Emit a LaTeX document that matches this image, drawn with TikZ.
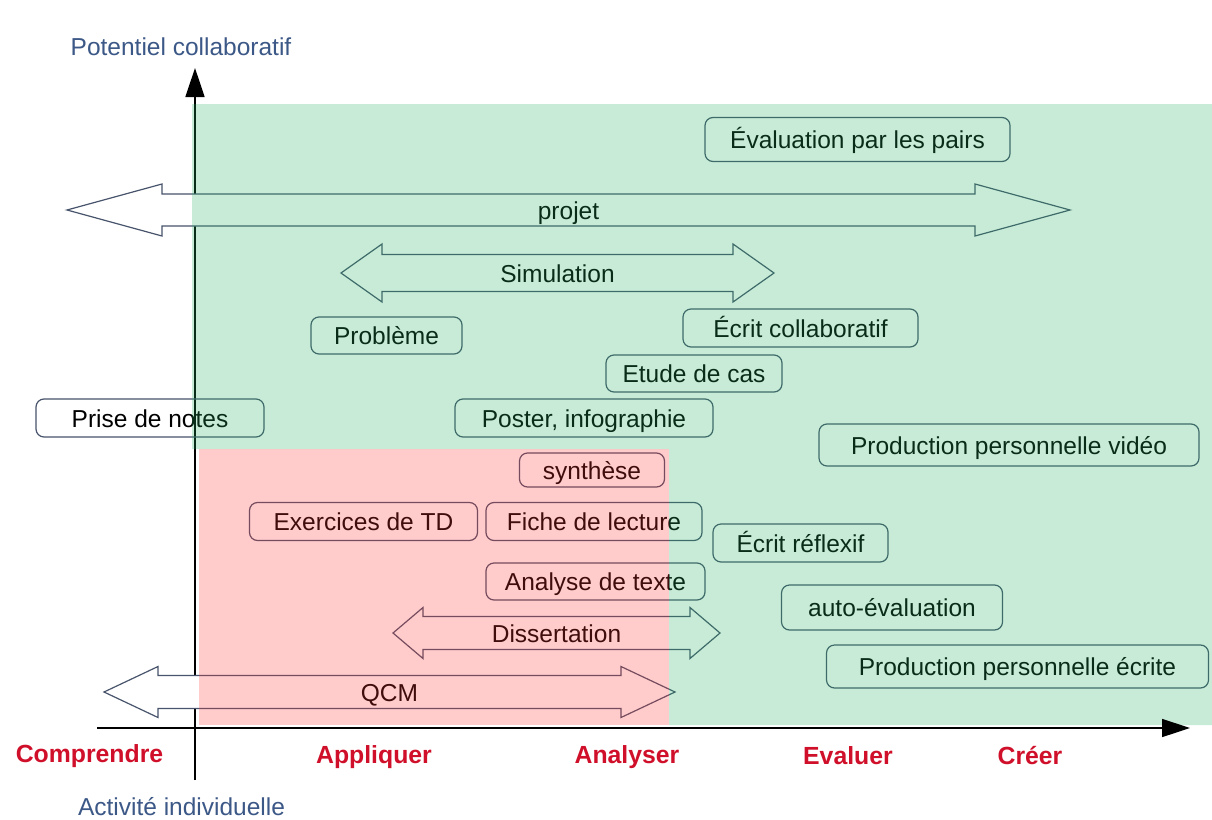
\documentclass[tikz,border=0pt]{standalone}
\usepackage{fontspec}
\setmainfont{Liberation Sans}
\usetikzlibrary{arrows.meta}
\definecolor{bord}{RGB}{72,84,108}
\definecolor{greenov}{rgb}{0.136,0.70,0.388}
\definecolor{redov}{rgb}{1,0.2,0.2}
\definecolor{bloom}{RGB}{208,16,42}
\definecolor{axlab}{RGB}{60,88,135}
\newcommand\dblarr[8]{%
  \draw[arr] (#2,#4) -- (#2+#7,#4-#6) -- (#2+#7,#4-#5) -- (#3-#7,#4-#5) -- (#3-#7,#4-#6) -- (#3,#4)
     -- (#3-#7,#4+#6) -- (#3-#7,#4+#5) -- (#2+#7,#4+#5) -- (#2+#7,#4+#6) -- cycle;
  \node[arrlab] (#1) at ({(#2+#3)/2},#4) {#8};
}
\begin{document}
\begin{tikzpicture}[x=1pt,y=-1pt,
  every node/.style={font=\fontsize{24.5}{28}\selectfont},
  box/.style={draw=bord, line width=1.2pt, rounded corners=8pt, inner sep=0pt,
              text height=20pt, text depth=2pt, text=black},
  arr/.style={draw=bord, line width=1.2pt, fill=white},
  arrlab/.style={inner sep=0pt, text height=20pt, text depth=2pt, text=black},
  bloomlab/.style={text=bloom, font=\fontsize{24.8}{28}\selectfont\bfseries},
  axislab/.style={text=axlab}]
\useasboundingbox (0,0) rectangle (1212,819);
\fill[white] (0,0) rectangle (1212,819);
% axes
\coordinate (xs) at (97,728);
\coordinate (xe) at (1190,728);
\coordinate (ys) at (195,780);
\coordinate (ye) at (195,68);
\draw[line width=1.5pt, -{Triangle[length=29pt,width=19pt]}] (ys) -- (ye);
% double arrows
\dblarr{projet}{67}{1070}{210}{16}{26}{95}{projet}
\dblarr{simu}{341}{774}{273}{18.5}{29}{41}{Simulation}
\dblarr{diss}{393}{720}{633}{16.5}{25.5}{30}{Dissertation}
\dblarr{qcm}{104}{675}{692}{16.5}{25.5}{54}{QCM}
% boxes
\node[box,minimum width=305,minimum height=44] (eval) at (857.5,139.5) {Évaluation par les pairs};
\node[box,minimum width=151,minimum height=37] (prob) at (386.5,335.5) {Problème};
\node[box,minimum width=235,minimum height=38] (ecol) at (800.5,328) {Écrit collaboratif};
\node[box,minimum width=176,minimum height=37] (cas) at (694,373.5) {Etude de cas};
\node[box,minimum width=228,minimum height=38] (notes) at (150,418) {Prise de notes};
\node[box,minimum width=258,minimum height=38] (poster) at (584,418) {Poster, infographie};
\node[box,minimum width=380,minimum height=42] (video) at (1009,445) {Production personnelle vidéo};
\node[box,minimum width=145,minimum height=34] (synth) at (592,470) {synthèse};
\node[box,minimum width=228,minimum height=38] (td) at (363.5,521.5) {Exercices de TD};
\node[box,minimum width=216,minimum height=38] (fiche) at (594,521.5) {Fiche de lecture};
\node[box,minimum width=175,minimum height=38] (refl) at (800.5,543) {Écrit réflexif};
\node[box,minimum width=219,minimum height=37] (texte) at (595.5,581.5) {Analyse de texte};
\node[box,minimum width=221,minimum height=45] (auto) at (892,607.5) {auto-évaluation};
\node[box,minimum width=382,minimum height=43] (ecrite) at (1017.5,666.5) {Production personnelle écrite};
% colour overlays
\fill[greenov, fill opacity=0.25] (192,104) -- (1212,104) -- (1212,725) -- (669,725) -- (669,449) -- (192,449) -- cycle;
\fill[redov, fill opacity=0.25] (199,449) rectangle (669,725);
% horizontal axis on top
\draw[line width=1.5pt, -{Triangle[length=28pt,width=18pt]}] (xs) -- (xe);
% axis labels
\node[axislab] (potentiel) at (181,47) {Potentiel collaboratif};
\node[axislab] (activite) at (181.5,807) {Activité individuelle};
\node[bloomlab] (comp) at (89.5,756.5) {Comprendre};
\node[bloomlab] (appl) at (374,757) {Appliquer};
\node[bloomlab] (anal) at (627,757) {Analyser};
\node[bloomlab] (evalu) at (848,756) {Evaluer};
\node[bloomlab] (creer) at (1030,756) {Créer};
\end{tikzpicture}
\end{document}
